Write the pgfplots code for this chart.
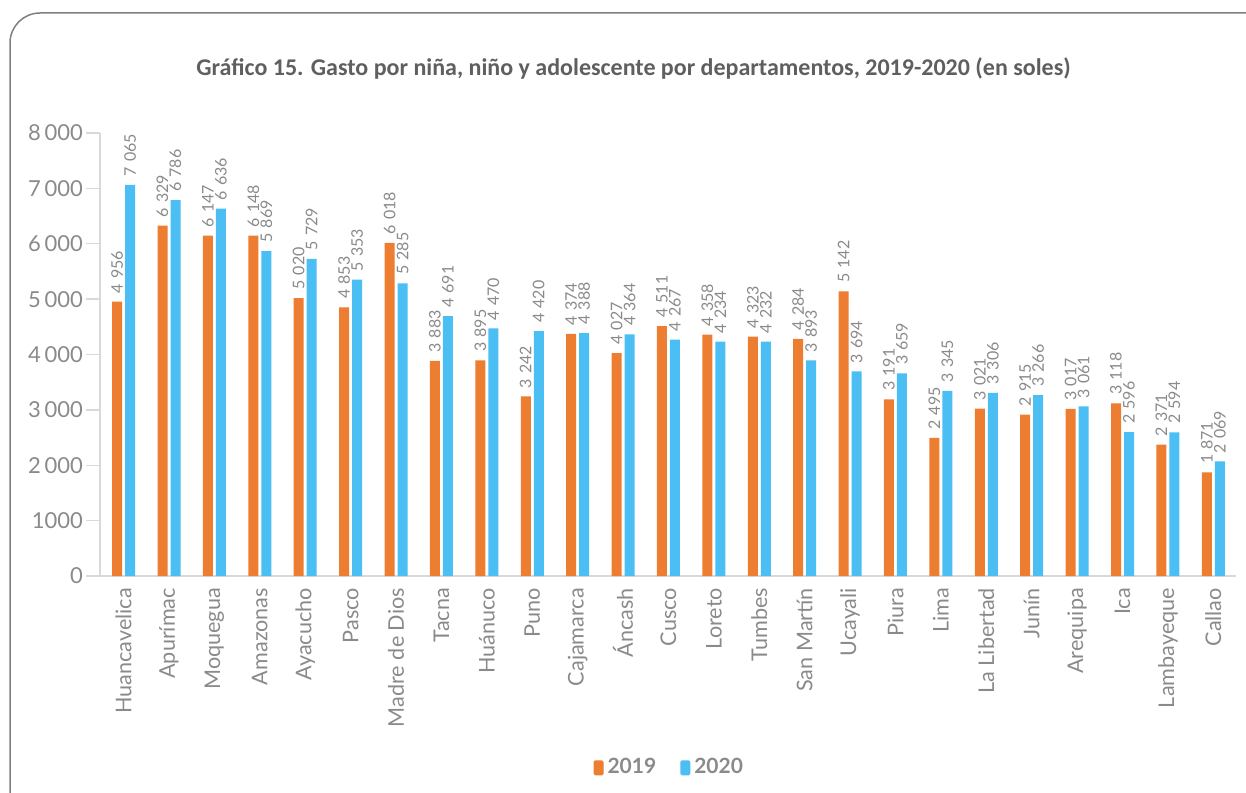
\documentclass[border=0pt]{standalone}
\usepackage{fontspec}
\setmainfont{Lato}
\newfontfamily\titlefont{Carlito}
\usepackage{pgfplots}
\usepackage{pgfplotstable}
\pgfplotsset{compat=1.18}
\definecolor{cOrange}{HTML}{ED7D31}
\definecolor{cBlue}{HTML}{4BBEF3}
\definecolor{cText}{HTML}{8A8A8A}
\definecolor{cTitle}{HTML}{5F5F5F}
\definecolor{cAxis}{HTML}{D9D9D9}
\definecolor{cFrame}{HTML}{7F7F7F}
\pgfplotstableread{
x y2019 y2020
0 4956 7065
1 6329 6786
2 6147 6636
3 6148 5869
4 5020 5729
5 4853 5353
6 6018 5285
7 3883 4691
8 3895 4470
9 3242 4420
10 4374 4388
11 4027 4364
12 4511 4267
13 4358 4234
14 4323 4232
15 4284 3893
16 5142 3694
17 3191 3659
18 2495 3345
19 3021 3306
20 2915 3266
21 3017 3061
22 3118 2596
23 2371 2594
24 1871 2069
}\datatable
\begin{document}
\begin{tikzpicture}
\useasboundingbox (0,0) rectangle (623pt,396pt);
\draw[cFrame, line width=0.75pt, rounded corners=15pt] (5pt,-2pt) -- (5pt,389.5pt) -- (625pt,389.5pt);
\node[font=\titlefont\bfseries\fontsize{12}{14}\selectfont, text=cTitle] at (316.75pt,362pt) {Gráfico 15. Gasto por niña, niño y adolescente por departamentos, 2019-2020 (en soles)};
\begin{axis}[
  at={(50pt,108pt)}, anchor=south west,
  scale only axis, width=568pt, height=221.5pt,
  ybar=1.5pt, bar width=5pt,
  xmin=-0.52, xmax=24.5, ymin=0, ymax=8000,
  axis x line=bottom, axis y line=left,
  axis line style={cAxis, line width=0.75pt, -},
  xtick=data,
  xticklabels={Huancavelica,Apurímac,Moquegua,Amazonas,Ayacucho,Pasco,Madre de Dios,Tacna,Huánuco,Puno,Cajamarca,Áncash,Cusco,Loreto,Tumbes,San Martín,Ucayali,Piura,Lima,La Libertad,Junín,Arequipa,Ica,Lambayeque,Callao},
  xticklabel style={yshift=4.5pt, rotate=90, anchor=east, font=\fontsize{10.8}{12}\selectfont, text=cText},
  xtick style={draw=none},
  ytick={0,1000,...,8000},
  yticklabels={0,1000,2\,000,3\,000,4\,000,5\,000,6\,000,7\,000,8\,000},
  yticklabel style={font=\fontsize{11}{13}\selectfont, text=cText, xshift=2pt},
  ytick style={draw=cAxis, line width=0.75pt},
  tick align=outside, major tick length=7pt,
  /pgf/number format/assume math mode=true,
  nodes near coords={\pgfmathprintnumber[1000 sep={\hspace{0.32em}}]{\pgfplotspointmeta}},
  nodes near coords style={rotate=90, anchor=west, font=\fontsize{8}{10}\selectfont, text=cText, inner xsep=4pt, inner ysep=0pt},
  legend style={at={(0.502,-0.433)}, anchor=center, draw=none, fill=none, legend columns=2,
    font=\bfseries\fontsize{10.5}{12}\selectfont, text=cText,
    /tikz/every even column/.append style={column sep=10pt}},
  clip=false,
]
\addplot[fill=cOrange, draw=none, legend image code/.code={\fill[cOrange, rounded corners=0.8pt] (0pt,-3.75pt) rectangle (5pt,3.75pt);}] table[x=x, y=y2019] {\datatable};
\addplot[fill=cBlue, draw=none, legend image code/.code={\fill[cBlue, rounded corners=0.8pt] (0pt,-3.75pt) rectangle (5pt,3.75pt);}] table[x=x, y=y2020] {\datatable};
\legend{2019,2020}
\end{axis}
\end{tikzpicture}
\end{document}
